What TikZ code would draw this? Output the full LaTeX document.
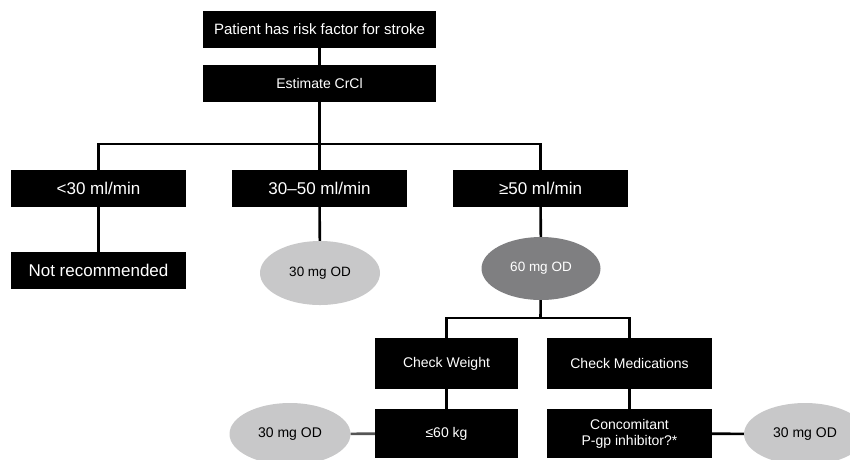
\documentclass[tikz,border=0pt]{standalone}
\usepackage{fontspec}
\setmainfont{Liberation Sans}
\usetikzlibrary{shapes.geometric}
\definecolor{lightoval}{HTML}{C8C8C9}
\definecolor{darkoval}{HTML}{7F7F81}
\definecolor{greyline}{HTML}{555555}
\tikzset{
  blackbox/.style={rectangle, fill=black, text=white, inner sep=0pt, align=center, font=\fontsize{14}{16}\selectfont},
  oval/.style={ellipse, inner sep=0pt, align=center, font=\fontsize{14}{16}\selectfont},
  link/.style={line width=2.6pt, draw=black},
}
\begin{document}
\begin{tikzpicture}[x=1pt,y=-1pt]
\useasboundingbox (0,0) rectangle (850,459);
% top
\node[blackbox, minimum width=233pt, minimum height=37pt, font=\fontsize{15}{17}\selectfont] (risk) at (319.5,29.5) {Patient has risk factor for stroke};
\node[blackbox, minimum width=233pt, minimum height=37pt] (crcl) at (319.5,83.5) {Estimate CrCl};
% row of CrCl ranges
\node[blackbox, minimum width=175pt, minimum height=37pt, font=\fontsize{17}{19}\selectfont] (low) at (98.5,188.5) {<30 ml/min};
\node[blackbox, minimum width=175pt, minimum height=37pt, font=\fontsize{17}{19}\selectfont] (mid) at (319.5,188.5) {30–50 ml/min};
\node[blackbox, minimum width=175pt, minimum height=37pt, font=\fontsize{17}{19}\selectfont] (high) at (540.5,188.5) {≥50 ml/min};
% outcomes
\node[blackbox, minimum width=175pt, minimum height=37pt, font=\fontsize{17}{19}\selectfont] (notrec) at (98.5,270.5) {Not recommended};
\node[oval, fill=lightoval, minimum width=120pt, minimum height=64pt, font=\fontsize{13.5}{16}\selectfont] (d30a) at (320,273) {30 mg OD};
\node[oval, fill=darkoval, text=white, minimum width=119pt, minimum height=63pt, font=\fontsize{13.5}{16}\selectfont] (d60) at (541,268.5) {60 mg OD};
% checks
\node[blackbox, minimum width=143pt, minimum height=51pt] (weight) at (446.5,363.5) {Check Weight};
\node[blackbox, minimum width=165pt, minimum height=51pt] (meds) at (629.5,363.5) {Check Medications};
\node[blackbox, minimum width=143pt, minimum height=49pt] (kg) at (446.5,433.5) {≤60 kg};
\node[blackbox, minimum width=165pt, minimum height=49pt] (pgp) at (629.5,433.5) {Concomitant\\P-gp inhibitor?*};
\node[oval, fill=lightoval, minimum width=121pt, minimum height=62pt] (d30b) at (290,434) {30 mg OD};
\node[oval, fill=lightoval, minimum width=122pt, minimum height=62pt] (d30c) at (805,434) {30 mg OD};
% junction coordinates
\coordinate (jl) at (98.5,144);
\coordinate (jm) at (319.5,144);
\coordinate (jr) at (540.5,144);
\coordinate (kl) at (446.5,318);
\coordinate (km) at (540.5,318);
\coordinate (kr) at (629.5,318);
% connectors
\draw[link] (risk) -- (crcl);
\draw[link] (crcl) -- (jm);
\draw[link, line cap=rect] (jl) -- (jr);
\draw[link] (jl) -- (low);
\draw[link] (jm) -- (mid);
\draw[link] (jr) -- (high);
\draw[link] (low) -- (notrec);
\draw[link] (mid) -- (d30a);
\draw[link] (high) -- (d60);
\draw[link] (d60) -- (km);
\draw[link, line cap=rect] (kl) -- (kr);
\draw[link] (kl) -- (weight);
\draw[link] (kr) -- (meds);
\draw[link] (weight) -- (kg);
\draw[link] (meds) -- (pgp);
\draw[link, draw=greyline] (kg) -- (d30b);
\draw[link] (pgp) -- (d30c);
\end{tikzpicture}
\end{document}
